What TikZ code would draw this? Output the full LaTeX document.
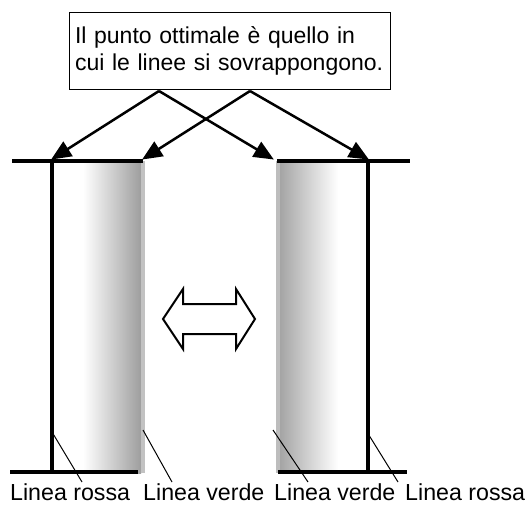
\documentclass[tikz,border=0pt]{standalone}
\usepackage{fontspec}
\setmainfont{Liberation Sans}
\usetikzlibrary{arrows.meta,shapes.arrows}
\begin{document}
\begin{tikzpicture}[x=1pt,y=-1pt,
  thickline/.style={line width=4pt},
  pointer/.style={line width=2.5pt,-{Triangle[length=20pt,width=17pt]},shorten >=-1pt},
  leader/.style={line width=1pt},
  lbl/.style={font=\fontsize{23.2}{27}\selectfont,inner sep=0pt,anchor=base west}]
\useasboundingbox (0,0) rectangle (528,507);
% gray bands
\fill[white] (52,161) rectangle (83,473);
\shade[left color=white,right color=black!38] (83,161) rectangle (141,473);
\fill[black!24] (140.5,161) rectangle (145,473);
\shade[left color=black!36,right color=white] (279,161) rectangle (338,473);
\fill[black!26] (276,161) rectangle (279.5,473);
% frames
\draw[thickline] (12,161) -- (143,161);
\draw[thickline] (10,472) -- (138,472);
\draw[thickline] (52,159) -- (52,474);
\draw[thickline] (277,161) -- (410,161);
\draw[thickline] (278,472) -- (407,472);
\draw[thickline] (368,159) -- (368,474);
% note
\node[draw,line width=1pt,minimum width=321pt,minimum height=77pt,text width=309pt,
  inner xsep=6pt,align=left,font=\fontsize{23}{27}\selectfont] (note) at (229.5,50.5)
  {\mbox{Il punto ottimale è quello in}\\\mbox{cui le linee si sovrappongono.}};
\coordinate (s1) at (159,91);
\coordinate (s2) at (250,91);
\coordinate (t1) at (52,159);
\coordinate (t2) at (143,159);
\coordinate (t3) at (273,159);
\coordinate (t4) at (368,159);
\draw[pointer] (s1) -- (t1);
\draw[pointer] (s1) -- (t3);
\draw[pointer] (s2) -- (t2);
\draw[pointer] (s2) -- (t4);
% double arrow
\draw[line width=2pt,line join=miter] (163,319) -- (183,289) -- (183,304) -- (236,304) -- (236,289)
  -- (255,319) -- (236,349) -- (236,334) -- (183,334) -- (183,349) -- cycle;
% labels
\node[lbl] (l1) at (10,500) {Linea rossa};
\node[lbl] (l2) at (143,500) {Linea verde};
\node[lbl] (l3) at (274,500) {Linea verde};
\node[lbl] (l4) at (405,500) {Linea rossa};
\coordinate (p1) at (52,432);
\coordinate (p2) at (143,430);
\coordinate (p3) at (273,430);
\coordinate (p4) at (367,432);
\draw[leader] (p1) -- (82,482);
\draw[leader] (p2) -- (172,482);
\draw[leader] (p3) -- (308,482);
\draw[leader] (p4) -- (398,482);
\end{tikzpicture}
\end{document}
